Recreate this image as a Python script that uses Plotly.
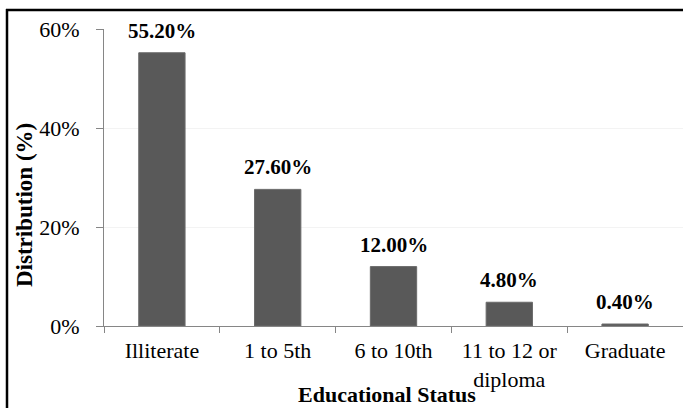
import plotly.graph_objects as go

categories = ["Illiterate", "1 to 5th", "6 to 10th", "11 to 12 or<br>diploma", "Graduate"]
values = [55.2, 27.6, 12.0, 4.8, 0.4]
value_labels = ["55.20%", "27.60%", "12.00%", "4.80%", "0.40%"]
y_ticks = [0, 20, 40, 60]
y_tick_labels = ["0%", "20%", "40%", "60%"]

FONT = "Liberation Serif"
W, H = 683, 408
L, R, T, B = 104, 0, 29, 82
pw, ph = W - L - R, H - T - B

def px_x(x):
    return (x - L) / pw

def px_y(y):
    return (H - B - y) / ph

fig = go.Figure()
fig.add_trace(go.Bar(
    x=categories, y=values, width=0.4,
    marker=dict(color="#595959", line=dict(color="#6a6a6a", width=1)),
    hoverinfo="skip",
))

for c, v, t in zip(categories, values, value_labels):
    fig.add_annotation(x=c, y=v, text="<b>%s</b>" % t, showarrow=False,
                       yanchor="bottom", yshift=8,
                       font=dict(family=FONT, size=21, color="#000000"))

fig.add_annotation(xref="paper", yref="paper", x=px_x(24), y=px_y(205),
                   text="<b>Distribution (%)</b>", textangle=-90, showarrow=False,
                   xanchor="center", yanchor="middle",
                   font=dict(family=FONT, size=23, color="#000000"))
fig.add_annotation(xref="paper", yref="paper", x=px_x(387), y=px_y(408),
                   text="<b>Educational Status</b>", showarrow=False,
                   xanchor="center", yanchor="bottom", borderpad=0,
                   font=dict(family=FONT, size=22, color="#000000"))

# image frame (left and top black border)
fig.add_shape(type="line", xref="paper", yref="paper",
              x0=px_x(7), x1=px_x(7), y0=px_y(9), y1=px_y(410),
              line=dict(color="#000000", width=2.5))
fig.add_shape(type="line", xref="paper", yref="paper",
              x0=px_x(6), x1=px_x(690), y0=px_y(10), y1=px_y(10),
              line=dict(color="#000000", width=2.5))

fig.update_layout(
    width=W, height=H,
    margin=dict(l=L, r=R, t=T, b=B, pad=0),
    paper_bgcolor="white", plot_bgcolor="white",
    showlegend=False, bargap=0.6,
    font=dict(family=FONT, size=22, color="#000000"),
)
fig.update_xaxes(
    showline=True, linecolor="#868686", linewidth=1,
    ticks="outside", ticklen=6, tickcolor="#868686",
    tickson="boundaries", showgrid=False,
    tickfont=dict(family=FONT, size=22, color="#000000"),
    ticklabelstandoff=5,
)
fig.update_yaxes(
    range=[0, 60], tickvals=y_ticks, ticktext=y_tick_labels,
    showline=True, linecolor="#868686", linewidth=1,
    ticks="outside", ticklen=7, tickcolor="#868686",
    showgrid=True, gridcolor="#f3f3f3", gridwidth=1, zeroline=False,
    tickfont=dict(family=FONT, size=22, color="#000000"),
    ticklabelstandoff=12,
)

fig.write_html("out.html")
